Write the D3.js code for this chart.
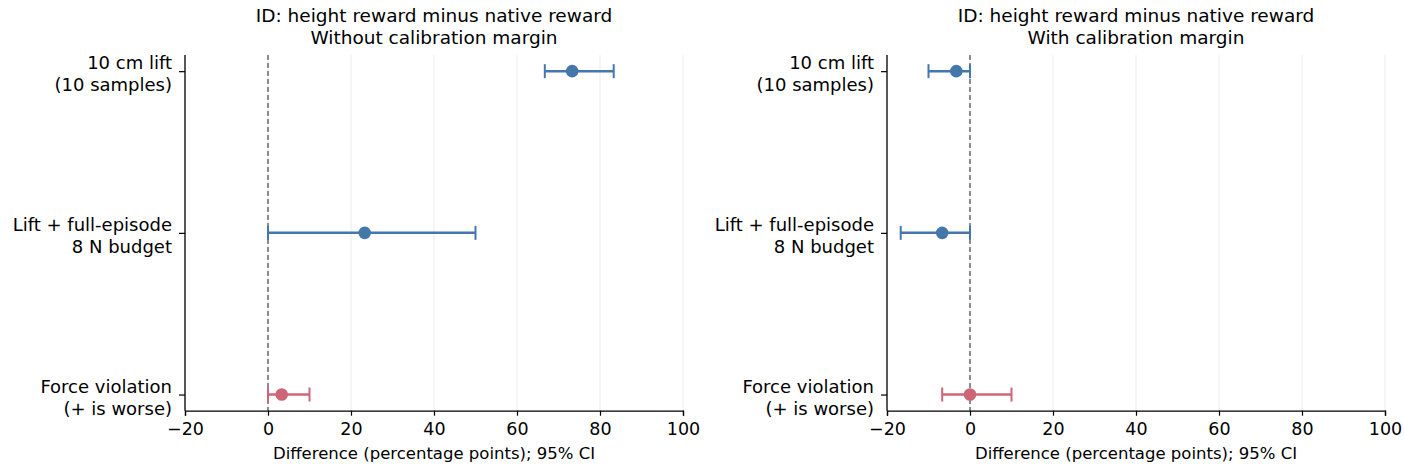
<!DOCTYPE html>
<html>
<head>
<meta charset="utf-8">
<script src="https://cdn.jsdelivr.net/npm/d3@7"></script>
<style>
  body { margin: 0; background: #fff; }
  svg text { font-family: "DejaVu Sans", sans-serif; fill: #000; }
</style>
</head>
<body>
<svg id="chart" width="1404" height="473"></svg>
<script>
// categories (top to bottom)
var categories = [
    ["10 cm lift", "(10 samples)"],
    ["Lift + full-episode", "8 N budget"],
    ["Force violation", "(+ is worse)"]
];
var catColors = ["#4477AA", "#4477AA", "#CC6677"];

// panel 1: without calibration margin
var noMarginMean = [73.3, 23.3, 3.3];
var noMarginLow = [66.7, 0, 0];
var noMarginHigh = [83.3, 50, 10];

// panel 2: with calibration margin
var marginMean = [-3.3, -6.7, 0];
var marginLow = [-10, -16.7, -6.7];
var marginHigh = [0, 0, 10];

var xTicks = [-20, 0, 20, 40, 60, 80, 100];
var titleLine1 = "ID: height reward minus native reward";
var panelTitles = ["Without calibration margin", "With calibration margin"];
var xLabel = "Difference (percentage points); 95% CI";

var svg = d3.select("#chart");

var panels = [
    { left: 185, mean: noMarginMean, low: noMarginLow, high: noMarginHigh, sub: panelTitles[0] },
    { left: 887, mean: marginMean, low: marginLow, high: marginHigh, sub: panelTitles[1] }
];

var panelW = 498;
var plotTop = 55, plotBottom = 410.7;

panels.forEach(function(p) {
    var g = svg.append("g");

    var x = d3.scaleLinear().domain([-20, 100]).range([p.left, p.left + panelW]);
    var y = d3.scalePoint().domain(d3.range(categories.length)).range([plotTop, plotBottom]).padding(0.1);

    // grid
    g.selectAll(".grid")
        .data(xTicks)
        .enter()
        .append("line")
        .attr("x1", d => x(d))
        .attr("x2", d => x(d))
        .attr("y1", plotTop)
        .attr("y2", plotBottom)
        .attr("stroke", "#ebebeb")
        .attr("stroke-width", 1);

    // zero line
    g.append("line")
        .attr("x1", x(0))
        .attr("x2", x(0))
        .attr("y1", plotTop)
        .attr("y2", plotBottom)
        .attr("stroke", "#555")
        .attr("stroke-width", 1.3)
        .attr("stroke-dasharray", "5,3");

    // error bars
    var rows = d3.range(categories.length).map(function(i) {
        return { i: i, mean: p.mean[i], low: p.low[i], high: p.high[i], color: catColors[i] };
    });

    var bars = g.selectAll(".bar")
        .data(rows)
        .enter()
        .append("g");

    bars.append("line")
        .attr("x1", d => x(d.low))
        .attr("x2", d => x(d.high))
        .attr("y1", d => y(d.i))
        .attr("y2", d => y(d.i))
        .attr("stroke", d => d.color)
        .attr("stroke-width", 2.5);

    bars.selectAll(".cap")
        .data(d => [{ v: d.low, d: d }, { v: d.high, d: d }])
        .enter()
        .append("line")
        .attr("x1", c => x(c.v))
        .attr("x2", c => x(c.v))
        .attr("y1", c => y(c.d.i) - 7)
        .attr("y2", c => y(c.d.i) + 7)
        .attr("stroke", c => c.d.color)
        .attr("stroke-width", 2);

    bars.append("circle")
        .attr("cx", d => x(d.mean))
        .attr("cy", d => y(d.i))
        .attr("r", 6.3)
        .attr("fill", d => d.color);

    // x axis
    var axisX = d3.axisBottom(x)
        .tickValues(xTicks)
        .tickSize(5)
        .tickPadding(7)
        .tickFormat(d => d < 0 ? "\u2212" + Math.abs(d) : d);

    var gx = g.append("g")
        .attr("transform", "translate(0," + plotBottom + ")")
        .call(axisX);
    gx.select(".domain").attr("stroke", "#000").attr("stroke-width", 1.3);
    gx.selectAll(".tick line").attr("stroke", "#000").attr("stroke-width", 1.2);
    gx.selectAll(".tick text")
        .attr("font-size", 17.5)
        .attr("font-family", "DejaVu Sans");

    // y axis
    var axisY = d3.axisLeft(y).tickSize(6).tickFormat("");
    var gy = g.append("g")
        .attr("transform", "translate(" + p.left + ",0)")
        .call(axisY);
    gy.select(".domain").attr("d", "M0," + plotTop + "V" + plotBottom).attr("stroke", "#000").attr("stroke-width", 1.3);
    gy.selectAll(".tick line").attr("stroke", "#000").attr("stroke-width", 1.2);

    gy.selectAll(".tick")
        .append("text")
        .attr("text-anchor", "end")
        .attr("font-size", 18)
        .attr("x", -13)
        .selectAll("tspan")
        .data(d => categories[d])
        .enter()
        .append("tspan")
        .attr("x", -13)
        .attr("y", (d, k) => k === 0 ? -2.5 : 19.5)
        .text(d => d);

    // titles
    var cx = p.left + panelW / 2;
    g.append("text")
        .attr("x", cx)
        .attr("y", 21.5)
        .attr("text-anchor", "middle")
        .attr("font-size", 18.5)
        .text(titleLine1);
    g.append("text")
        .attr("x", cx)
        .attr("y", 43.5)
        .attr("text-anchor", "middle")
        .attr("font-size", 18.5)
        .text(p.sub);

    // x label
    g.append("text")
        .attr("x", cx)
        .attr("y", 459)
        .attr("text-anchor", "middle")
        .attr("font-size", 16.5)
        .text(xLabel);
});
</script>
</body>
</html>
